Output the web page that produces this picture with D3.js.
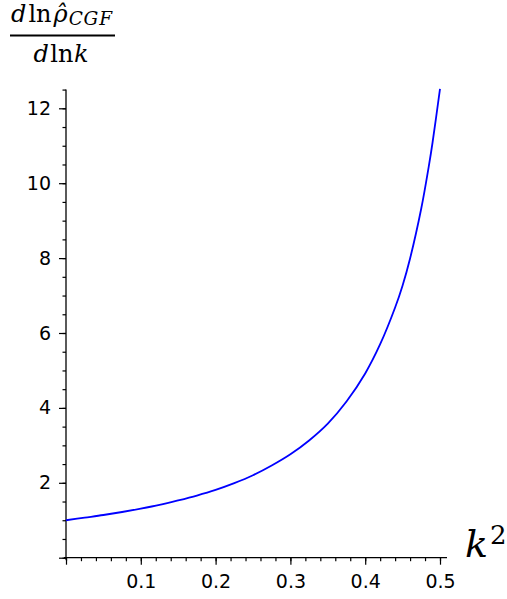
<!DOCTYPE html>
<html><head><meta charset="utf-8">
<script src="https://cdn.jsdelivr.net/npm/d3@7"></script>
<style>
html,body{margin:0;padding:0;background:#fff;}
svg{display:block;}
.tick text{font-family:"DejaVu Sans";font-size:19px;fill:#000;}
</style></head>
<body><svg id="c" width="507" height="599"></svg>
<script>
// data: x = k^2, y = d ln rho_CGF / d ln k
const k2 = [0, 0.025, 0.05, 0.075, 0.1, 0.125, 0.15, 0.175, 0.2, 0.225, 0.25, 0.275, 0.3, 0.325, 0.35, 0.375, 0.4, 0.42, 0.44, 0.45, 0.46, 0.475, 0.485, 0.49, 0.5];
const dlnrho = [1.00, 1.07, 1.14, 1.22, 1.31, 1.41, 1.53, 1.66, 1.81, 1.99, 2.20, 2.46, 2.76, 3.13, 3.58, 4.17, 4.92, 5.70, 6.68, 7.27, 7.99, 9.33, 10.45, 11.08, 12.52];
const xMajor = [0, 0.1, 0.2, 0.3, 0.4, 0.5];
const xLabels = ["", "0.1", "0.2", "0.3", "0.4", "0.5"];
const yMajor = [0, 2, 4, 6, 8, 10, 12];
const yLabels = ["", "2", "4", "6", "8", "10", "12"];
const xMinor = d3.range(0, 26).map(i => i * 0.02);
const yMinor = d3.range(0, 26).map(i => i * 0.5);

const svg = d3.select("#c");
const x = d3.scaleLinear().domain([0, 0.5]).range([66, 440]);
const y = d3.scaleLinear().domain([0, 12]).range([557.7, 108.3]);

function styleAxis(g){
  g.select(".domain").remove();
  g.selectAll(".tick line").attr("stroke","#000").attr("stroke-width",1.2);
}
svg.append("g").attr("transform",`translate(0,${y(0)})`)
  .call(d3.axisBottom(x).tickValues(xMinor).tickSize(3.5).tickFormat(""))
  .call(styleAxis);
svg.append("g").attr("transform",`translate(0,${y(0)})`)
  .call(d3.axisBottom(x).tickValues(xMajor).tickSize(7).tickPadding(10)
    .tickFormat((d,i)=>xLabels[i]))
  .call(styleAxis);
svg.append("g").attr("transform",`translate(${x(0)},0)`)
  .call(d3.axisLeft(y).tickValues(yMinor.filter(v=>v<=12.5)).tickSize(3.5).tickFormat(""))
  .call(styleAxis);
svg.append("g").attr("transform",`translate(${x(0)},0)`)
  .call(d3.axisLeft(y).tickValues(yMajor).tickSize(7).tickPadding(8)
    .tickFormat((d,i)=>yLabels[i]))
  .call(styleAxis);

svg.append("line").attr("x1",x(0)-2).attr("x2",447).attr("y1",y(0)).attr("y2",y(0))
  .attr("stroke","#000").attr("stroke-width",1.3);
svg.append("line").attr("x1",x(0)).attr("x2",x(0)).attr("y1",y(0)+2).attr("y2",y(12.5))
  .attr("stroke","#000").attr("stroke-width",1.3);

const pts = k2.map((v,i)=>[v, dlnrho[i]]);
svg.append("path").datum(pts)
  .attr("fill","none").attr("stroke","#0000ff").attr("stroke-width",1.8)
  .attr("d", d3.line().x(d=>x(d[0])).y(d=>y(d[1])).curve(d3.curveCatmullRom.alpha(0.5)));

// y label (fraction)
const f = "DejaVu Serif";
const num = svg.append("text").attr("x",11).attr("y",22).attr("font-family",f).attr("font-size",24);
num.append("tspan").attr("font-style","italic").text("d");
num.append("tspan").attr("dx",2).text("ln");
num.append("tspan").attr("dx",2).attr("font-style","italic").text("\u03C1\u0302");
num.append("tspan").attr("font-style","italic").attr("font-size",18.5).attr("dy",3).attr("dx",1).attr("letter-spacing",0.8).text("CGF");
svg.append("line").attr("x1",10).attr("x2",115).attr("y1",35.5).attr("y2",35.5)
  .attr("stroke","#000").attr("stroke-width",1.9);
const den = svg.append("text").attr("x",61).attr("y",62).attr("text-anchor","middle")
  .attr("font-family",f).attr("font-size",24);
den.append("tspan").attr("font-style","italic").text("d");
den.append("tspan").attr("dx",1.5).text("ln");
den.append("tspan").attr("dx",0.5).attr("font-style","italic").text("k");

// x label
const xl = svg.append("text").attr("x",465).attr("y",557).attr("font-family",f).attr("font-size",38);
xl.append("tspan").attr("font-style","italic").text("k");
xl.append("tspan").attr("font-size",26).attr("dy",-13).attr("dx",2).text("2");
</script></body></html>
